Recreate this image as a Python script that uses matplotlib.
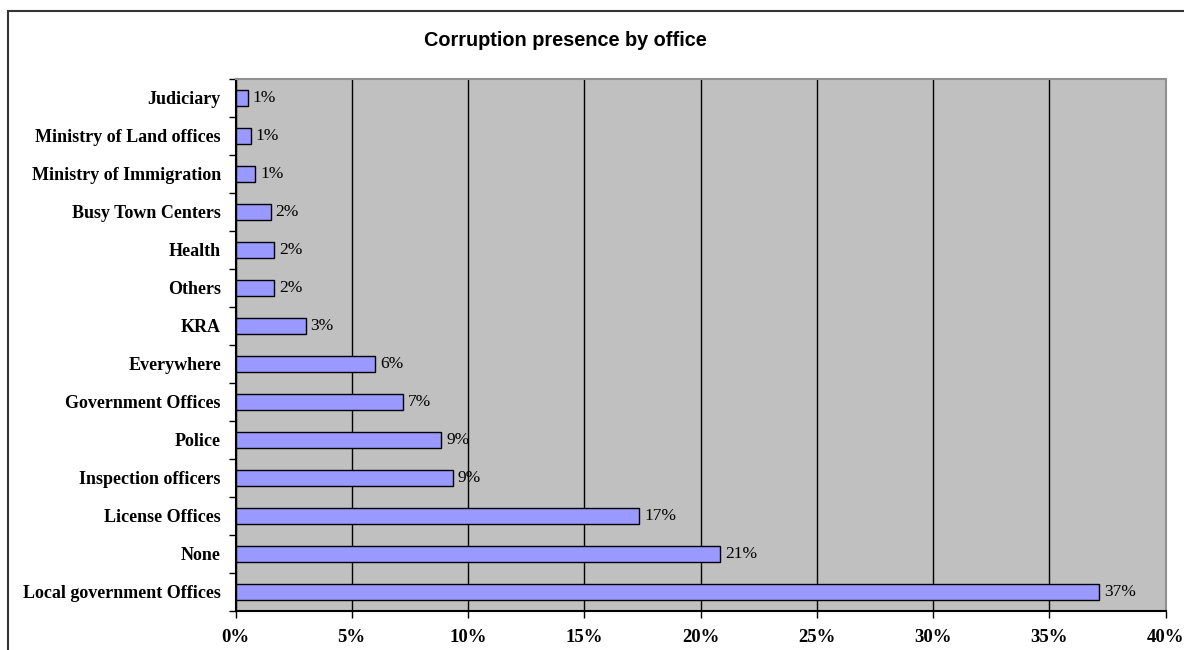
import matplotlib
matplotlib.use("Agg")
import matplotlib.pyplot as plt
from matplotlib.patches import Rectangle
import numpy as np

categories = ["Local government Offices", "None", "License Offices", "Inspection officers",
              "Police", "Government Offices", "Everywhere", "KRA", "Others", "Health",
              "Busy Town Centers", "Ministry of Immigration", "Ministry of Land offices", "Judiciary"]
values = [37.15, 20.85, 17.37, 9.34, 8.85, 7.19, 6.01, 3.02, 1.67, 1.67, 1.51, 0.85, 0.65, 0.52]
value_labels = ["37%", "21%", "17%", "9%", "9%", "7%", "6%", "3%", "2%", "2%", "2%", "1%", "1%", "1%"]
xticks = [0, 5, 10, 15, 20, 25, 30, 35, 40]
xtick_labels = ["0%", "5%", "10%", "15%", "20%", "25%", "30%", "35%", "40%"]
title = "Corruption presence by office"

W, H = 1184, 650
fig = plt.figure(figsize=(W / 100, H / 100), dpi=100)
fig.patches.append(Rectangle((8 / W, -0.1), 1.2, 1 - 11 / H + 0.1, transform=fig.transFigure,
                             fill=False, edgecolor="#333333", linewidth=1.5, zorder=0))

ax = fig.add_axes([235.5 / W, 1 - 611 / H, 930 / W, 532 / H])
ax.set_facecolor("#C0C0C0")
y = np.arange(len(categories))
ax.barh(y, values, height=0.4, color="#9999FF", edgecolor="black", linewidth=1, zorder=3)
ax.set_xlim(0, 40)
ax.set_ylim(-0.5, len(categories) - 0.5)
ax.set_xticks(xticks)
ax.set_xticklabels(xtick_labels, fontfamily="Liberation Serif", fontweight="bold", fontsize=13.5)
ax.xaxis.grid(True, color="black", linewidth=1, zorder=1)
ax.set_axisbelow(True)
ax.set_yticks(y)
ax.set_yticklabels(categories, fontfamily="Liberation Serif", fontweight="bold", fontsize=13)
ax.set_yticks(np.arange(-0.5, len(categories), 1), minor=True)
ax.tick_params(axis="y", which="major", length=0, pad=10.5)
ax.tick_params(axis="y", which="minor", length=5, width=1, color="black")
ax.tick_params(axis="x", which="major", length=5, width=1, color="black", pad=8)
for s in ["top", "right"]:
    ax.spines[s].set_color("#909090")
    ax.spines[s].set_linewidth(1.5)
for s in ["left", "bottom"]:
    ax.spines[s].set_color("black")
    ax.spines[s].set_linewidth(1.5)

for yi, v, lab in zip(y, values, value_labels):
    ax.annotate(lab, (v, yi), xytext=(3.5, 0), textcoords="offset points", va="center", ha="left",
                fontfamily="Liberation Serif", fontsize=12.5, color="black", zorder=4)

fig.text(565 / W, 1 - 41 / H, title, ha="center", va="center",
         fontfamily="Liberation Sans", fontweight="bold", fontsize=14.3)

fig.savefig("out.png", dpi=100)
